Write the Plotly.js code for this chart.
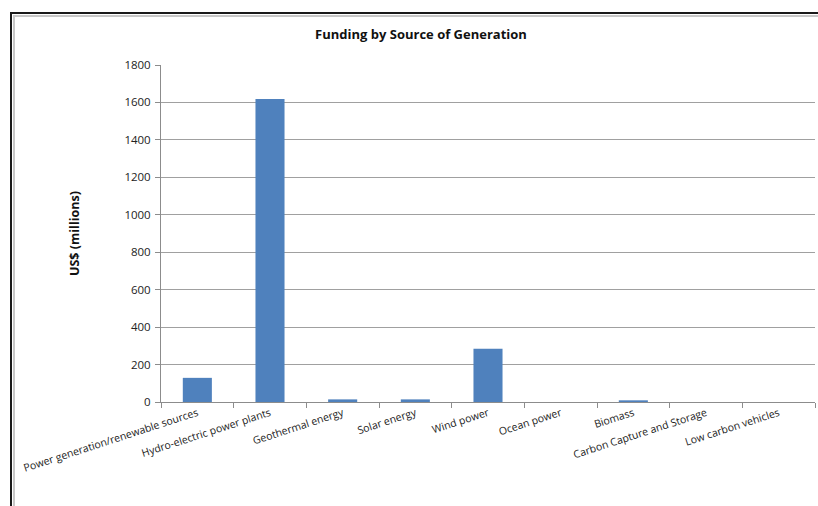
<!DOCTYPE html>
<html>
<head>
<meta charset="utf-8">
<script src="https://cdn.plot.ly/plotly-3.0.1.min.js"></script>
<style>
html,body{margin:0;padding:0;background:#fff;overflow:hidden;width:818px;height:506px;}
#frame1{position:absolute;left:10px;top:12px;width:806px;height:492px;border-left:2px solid #1a1a1a;border-top:2px solid #1a1a1a;}
#frame2{position:absolute;left:13px;top:15px;width:803px;height:489px;border-left:2px solid #c8c8c8;border-top:2px solid #c8c8c8;}
#chart{position:absolute;left:0;top:0;width:818px;height:506px;}
</style>
</head>
<body>
<div id="frame1"></div>
<div id="frame2"></div>
<div id="chart"></div>
<script>
const categories = [
  "Power generation/renewable sources",
  "Hydro-electric power plants",
  "Geothermal energy",
  "Solar energy",
  "Wind power",
  "Ocean power",
  "Biomass",
  "Carbon Capture and Storage",
  "Low carbon vehicles"
];
const fundingUSDm = [129, 1618, 14, 14, 284, 0, 9, 0, 0];
const yTicks = [0, 200, 400, 600, 800, 1000, 1200, 1400, 1600, 1800];

const font = "'Open Sans', sans-serif";

Plotly.newPlot('chart', [{
  type: 'bar',
  x: categories,
  y: fundingUSDm,
  marker: {color: '#4F81BD', line: {width: 0}},
  hoverinfo: 'x+y'
}], {
  width: 818, height: 506,
  paper_bgcolor: 'rgba(0,0,0,0)',
  plot_bgcolor: 'rgba(0,0,0,0)',
  margin: {l: 161, r: 3, t: 65, b: 104},
  bargap: 0.6,
  showlegend: false,
  title: {
    text: 'Funding by Source of Generation',
    font: {family: font, size: 13, color: '#111', weight: 'bold'},
    xref: 'container', x: 421/818, xanchor: 'center',
    yref: 'container', y: 1 - 34/506, yanchor: 'middle'
  },
  xaxis: {
    type: 'category',
    tickangle: -18,
    tickfont: {family: font, size: 10.5, color: '#222'},
    showline: true, linecolor: '#8c8c8c', linewidth: 1, mirror: false,
    ticks: 'outside', tickson: 'boundaries', ticklen: 5, tickcolor: '#8c8c8c',
    showgrid: false, zeroline: false
  },
  yaxis: {
    range: [0, 1800],
    tickvals: yTicks,
    ticktext: yTicks.map(String),
    tickfont: {family: font, size: 11.5, color: '#222'},
    ticklabelstandoff: 2,
    showline: true, linecolor: '#8c8c8c', linewidth: 1, mirror: false,
    ticks: 'outside', ticklen: 5, tickcolor: '#8c8c8c',
    showgrid: true, gridcolor: '#a0a0a0', gridwidth: 1,
    zeroline: false,
    title: {
      text: 'US$ (millions)',
      font: {family: font, size: 12.5, color: '#111', weight: 'bold'},
      standoff: 42
    }
  }
}, {staticPlot: true});
</script>
</body>
</html>
